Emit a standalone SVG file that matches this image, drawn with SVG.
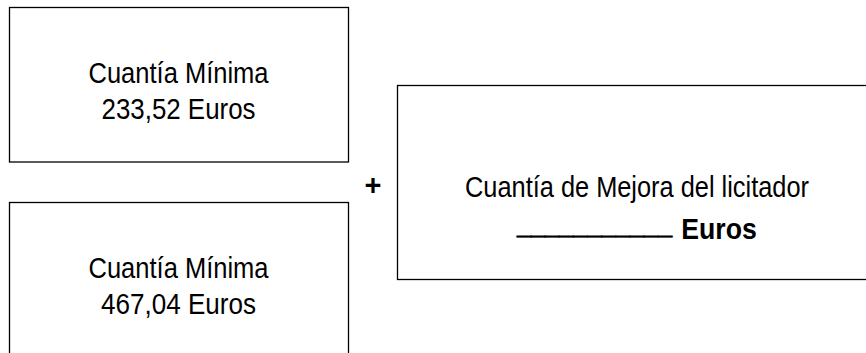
<svg xmlns="http://www.w3.org/2000/svg" width="866" height="353" viewBox="0 0 866 353">
<style>
.box{fill:#fff;stroke:#000;stroke-width:1.3}
.t{font-family:"Liberation Sans",Arial,sans-serif;font-size:29px;fill:#000;text-anchor:middle}
.b{font-weight:bold}
.u{stroke:#000;stroke-width:0.9}
</style>
<rect width="866" height="353" fill="#fff"/>
<g id="node-min1">
<rect class="box" x="9.5" y="7.5" width="339" height="154.5"/>
<text class="t" x="178.5" y="83" textLength="180" lengthAdjust="spacingAndGlyphs">Cuantía Mínima</text>
<text class="t" x="178.5" y="119" textLength="154" lengthAdjust="spacingAndGlyphs">233,52 Euros</text>
</g>
<g id="node-min2">
<rect class="box" x="9.5" y="202.5" width="339" height="200"/>
<text class="t" x="178.5" y="278" textLength="180" lengthAdjust="spacingAndGlyphs">Cuantía Mínima</text>
<text class="t" x="178.5" y="314" textLength="155" lengthAdjust="spacingAndGlyphs">467,04 Euros</text>
</g>
<g id="plus">
<text class="t b" x="373" y="195">+</text>
</g>
<g id="node-mejora">
<rect class="box" x="397.5" y="85.5" width="500" height="194"/>
<text class="t" x="637" y="197" textLength="344" lengthAdjust="spacingAndGlyphs">Cuantía de Mejora del licitador</text>
<text class="t b u" transform="translate(594.5,233.5) scale(0.875,1)" x="0" y="0">___________</text>
<text class="t b" transform="translate(719,239) scale(0.92,1)" x="0" y="0">Euros</text>
</g>
<g id="connectors"></g>
</svg>
